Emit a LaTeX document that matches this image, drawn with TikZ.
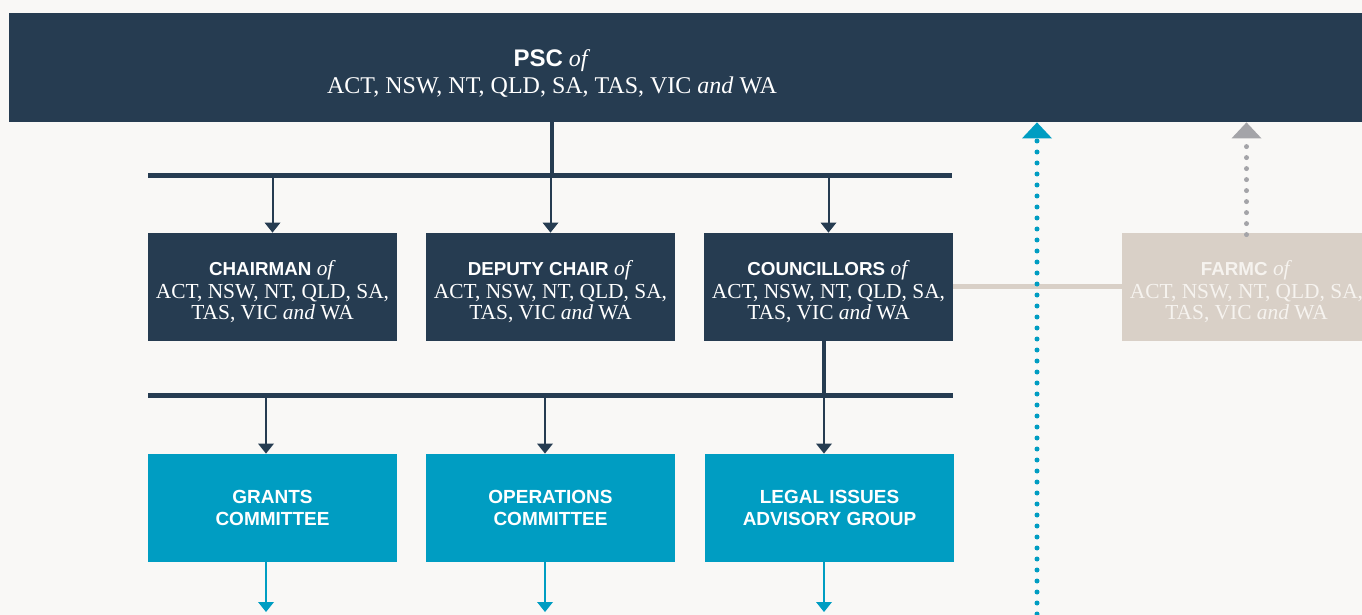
\documentclass[tikz,border=0pt]{standalone}
\usepackage{fontspec}
\setmainfont{Liberation Serif}
\setsansfont{Liberation Sans}
\usetikzlibrary{arrows.meta}

\definecolor{navy}{HTML}{263C51}
\definecolor{tealc}{HTML}{009DC2}
\definecolor{beige}{HTML}{D9D0C7}
\definecolor{greyarrow}{HTML}{A4A4A8}
\definecolor{paper}{HTML}{F9F8F6}
\definecolor{paletext}{HTML}{F6F3EF}

\newcommand{\hd}[1]{\rule{0pt}{12pt}{\sffamily\bfseries\fontsize{9.4}{10.8}\selectfont #1}}

\begin{document}
\begin{tikzpicture}[x=0.5pt, y=-0.5pt,
    navybox/.style={fill=navy, text=white, minimum width=124.5pt, minimum height=54pt,
        inner sep=0pt, align=center, font=\fontsize{10.7}{10.5}\selectfont},
    tealbox/.style={navybox, fill=tealc, font=\sffamily\bfseries\fontsize{9.5}{11}\selectfont},
    bar/.style={draw=navy, line width=2.5pt},
    stem/.style={draw=navy, line width=2pt},
    downarrow/.style={draw=navy, line width=1pt, -{Triangle[width=8pt,length=5pt,line width=0pt]}},
    dotline/.style={line width=2.5pt, line cap=round, dash pattern=on 0pt off 5.5pt,
        -{Triangle[width=15pt,length=8pt,line width=0pt]}}]

    \useasboundingbox (0,0) rectangle (1362,615);
    \fill[paper] (0,0) rectangle (1362,615);

    % PSC (top)
    \fill[navy] (1090,13) rectangle (1362,122);
    \node[navybox, minimum width=543pt, minimum height=54.5pt,
        font=\fontsize{12}{13.5}\selectfont] (psc) at (552,67.5)
        {\rule{0pt}{14pt}{\sffamily\bfseries PSC} \textit{of}\\ ACT, NSW, NT, QLD, SA, TAS, VIC \textit{and} WA};

    % first bar
    \coordinate (bar1l) at (148,176);
    \coordinate (bar1r) at (952,176);
    \draw[stem] (psc.south) -- (psc.south |- bar1l);
    \draw[bar] (bar1l) -- (bar1r);

    % Chairman, deputy, councillors
    \node[navybox] (chair) at (272.5,287) {\hd{CHAIRMAN} \textit{of}\\[1pt] ACT, NSW, NT, QLD, SA,\\ TAS, VIC \textit{and} WA};
    \node[navybox] (deputy) at (550.5,287) {\hd{DEPUTY CHAIR} \textit{of}\\[1pt] ACT, NSW, NT, QLD, SA,\\ TAS, VIC \textit{and} WA};
    \node[navybox] (counc) at (828.5,287) {\hd{COUNCILLORS} \textit{of}\\[1pt] ACT, NSW, NT, QLD, SA,\\ TAS, VIC \textit{and} WA};
    \foreach \n in {chair, deputy, counc}
        \draw[downarrow] (\n.north |- bar1l) -- (\n.north);

    % FARMC
    \node[navybox, fill=beige, text=paletext] (farmc) at (1246.5,287) {\hd{FARMC} \textit{of}\\[1pt] ACT, NSW, NT, QLD, SA,\\ TAS, VIC \textit{and} WA};
    \draw[draw=beige, line width=2.5pt] (counc.east) -- (farmc.west);

    % dotted arrows up to PSC
    \coordinate (tealbot) at (1037,625);
    \draw[dotline, draw=tealc] (tealbot) -- (psc.south -| tealbot);
    \draw[dotline, draw=greyarrow] ([yshift=-1pt]farmc.north) -- (psc.south -| farmc.north);

    % second bar
    \coordinate (bar2l) at (148,395);
    \coordinate (bar2r) at (953,395);
    \coordinate (gout) at (266,612);
    \coordinate (oout) at (545,612);
    \coordinate (lout) at (824,612);
    \draw[stem] (counc.south -| lout) -- (bar2l -| lout);
    \draw[bar] (bar2l) -- (bar2r);

    % committees
    \node[tealbox] (grants) at (272.5,508) {GRANTS\\ COMMITTEE};
    \node[tealbox] (ops) at (550.5,508) {OPERATIONS\\ COMMITTEE};
    \node[tealbox] (legal) at (829.5,508) {LEGAL ISSUES\\ ADVISORY GROUP};
    \draw[downarrow] (bar2l -| gout) -- (grants.north -| gout);
    \draw[downarrow] (bar2l -| oout) -- (ops.north -| oout);
    \draw[downarrow] (bar2l -| lout) -- (legal.north -| lout);
    \draw[downarrow, draw=tealc] (grants.south -| gout) -- (gout);
    \draw[downarrow, draw=tealc] (ops.south -| oout) -- (oout);
    \draw[downarrow, draw=tealc] (legal.south -| lout) -- (lout);
\end{tikzpicture}
\end{document}
